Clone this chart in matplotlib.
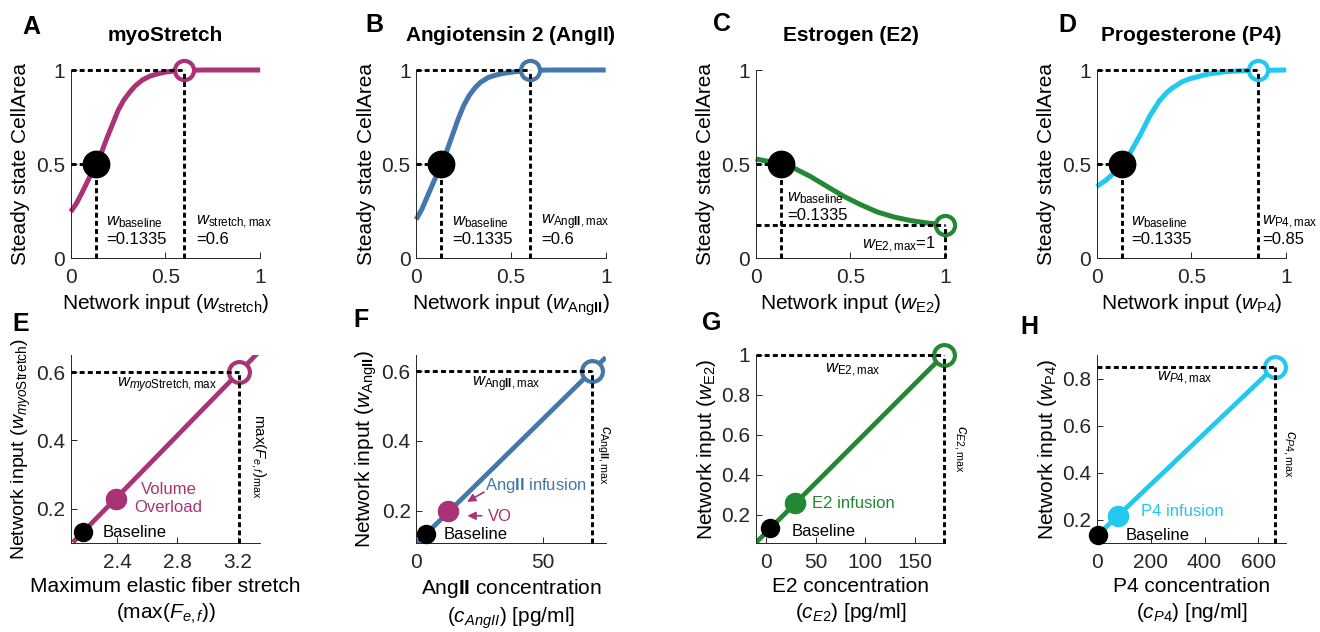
import matplotlib
matplotlib.use('Agg')
import matplotlib.pyplot as plt

plt.rcParams['font.family'] = ['Liberation Sans', 'DejaVu Sans']
plt.rcParams['mathtext.fontset'] = 'custom'
plt.rcParams['mathtext.rm'] = 'Liberation Sans'
plt.rcParams['mathtext.it'] = 'Liberation Sans:italic'
plt.rcParams['mathtext.bf'] = 'Liberation Sans:bold'

# ---------------- data ----------------
C_STRETCH = '#AA3377'
C_ANG = '#4477AA'
C_E2 = '#228833'
C_P4 = '#22C8EE'

w_baseline = 0.1335

# Top row: steady-state CellArea vs network input
wA = [0, .03, .06, .09, .1335, .16, .19, .22, .25, .28, .31, .34, .38, .42, .46, .50, .55, .60, .70, .80, 1.0]
areaA = [.246, .29, .348, .41, .50, .555, .635, .71, .785, .84, .88, .915, .948, .968, .980, .989, .995, .998, 1.0, 1.0, 1.0]
wB = [0, .03, .06, .09, .1335, .16, .19, .22, .25, .28, .31, .34, .38, .42, .46, .50, .55, .60, .70, .80, 1.0]
areaB = [.205, .26, .33, .40, .50, .565, .65, .735, .81, .865, .905, .935, .96, .973, .982, .988, .994, .997, 1.0, 1.0, 1.0]
wC = [0, .1335, .2, .288, .376, .465, .553, .641, .73, .818, .906, 1.0]
areaC = [.527, .50, .479, .434, .381, .328, .284, .245, .218, .199, .186, .177]
wD = [0, .05, .1, .1335, .175, .23, .28, .33, .37, .40, .45, .49, .58, .67, .75, .85, 1.0]
areaD = [.38, .415, .46, .50, .557, .655, .755, .835, .88, .905, .937, .953, .977, .99, .995, .998, 1.0]

wmax_top = [0.6, 0.6, 1.0, 0.85]
areamax_top = [1.0, 1.0, 0.177, 1.0]
wmax_labels = ['=0.6', '=0.6', '=1', '=0.85']

# Bottom row: network input vs stimulus
stretch_line_x = [2.105, 3.33]
stretch_line_w = [0.102, 0.654]
stretch_base = (2.175, 0.1335)
stretch_vo = (2.39, 0.23)
stretch_max = (3.21, 0.6)

ang_line_x = [0, 75]
ang_line_w = [0.105, 0.639]
ang_base = (4.0, 0.1335)
ang_vo = (12.5, 0.198)
ang_max = (69.5, 0.6)

e2_line_x = [-10, 179]
e2_line_w = [0.062, 1.0]
e2_base = (4.4, 0.1335)
e2_inf = (29.7, 0.26)
e2_max = (179, 1.0)

p4_line_x = [0, 660]
p4_line_w = [0.13, 0.85]
p4_base = (3, 0.1335)
p4_inf = (78, 0.216)
p4_max = (660, 0.85)

# ---------------- figure ----------------
W, H = 1320, 632
fig = plt.figure(figsize=(W / 100, H / 100), dpi=100)

col_left = [70.7, 416.2, 755.7, 1096.7]
ax_w = 189.5
row_top = [70, 355]
ax_h = 188


def make_ax(col, row):
    l = col_left[col] / W
    b = (H - row_top[row] - ax_h) / H
    ax = fig.add_axes([l, b, ax_w / W, ax_h / H])
    for s in ['top', 'right']:
        ax.spines[s].set_visible(False)
    for s in ['left', 'bottom']:
        ax.spines[s].set_color('#262626')
        ax.spines[s].set_linewidth(0.7)
    ax.tick_params(direction='in', length=4, width=0.7, colors='#262626',
                   labelsize=15, labelcolor='#262626')
    ax.tick_params(axis='x', pad=7)
    ax.tick_params(axis='y', pad=4)
    return ax


DASH = dict(color='black', lw=2.1, ls=(0, (1.7, 1.1)), zorder=4, clip_on=False,
            dash_capstyle='butt')

titles = ['myoStretch', r'Angiotensin 2 (Ang$\mathbf{II}$)', 'Estrogen (E2)', 'Progesterone (P4)']
xlabels_top = [r'Network input ($w_{\mathrm{stretch}}$)',
               r'Network input ($w_{\mathrm{Ang}\mathbf{II}}$)',
               r'Network input ($w_{\mathrm{E2}}$)',
               r'Network input ($w_{\mathrm{P4}}$)']
wmax_names = [r'$w_{\mathrm{stretch,max}}$', r'$w_{\mathrm{Ang}\mathbf{II}\mathrm{,max}}$',
              r'$w_{\mathrm{E2,max}}$', r'$w_{\mathrm{P4,max}}$']
curves = [(wA, areaA, C_STRETCH), (wB, areaB, C_ANG), (wC, areaC, C_E2), (wD, areaD, C_P4)]
base_lbl_x = [0.186, 0.19, 0.164, 0.18]
base_lbl_y = [0.189, 0.189, 0.318, 0.189]
max_lbl_x = [0.66, 0.66, 0.95, 0.873]

for i, (xs, ys, col) in enumerate(curves):
    ax = make_ax(i, 0)
    ax.set_xlim(0, 1)
    ax.set_ylim(0, 1)
    ax.set_xticks([0, 0.5, 1])
    ax.set_xticklabels(['0', '0.5', '1'])
    ax.set_yticks([0, 0.5, 1])
    ax.set_yticklabels(['0', '0.5', '1'])
    ax.plot(xs, ys, color=col, lw=3.6, solid_capstyle='butt', solid_joinstyle='round',
            zorder=2, clip_on=False)
    # dashed guides
    ax.plot([0, w_baseline], [0.5, 0.5], **DASH)
    ax.plot([w_baseline, w_baseline], [0, 0.5], **DASH)
    ax.plot([0, wmax_top[i]], [areamax_top[i], areamax_top[i]], **DASH)
    ax.plot([wmax_top[i], wmax_top[i]], [0, areamax_top[i]], **DASH)
    ax.plot([wmax_top[i]], [areamax_top[i]], 'o', ms=13.8, mew=3, mec=col, mfc='white',
            zorder=3, clip_on=False)
    ax.plot([w_baseline], [0.5], 'o', ms=19, color='black', zorder=5, clip_on=False)
    ax.set_title(titles[i], fontsize=15, fontweight='bold', pad=21)
    ax.set_xlabel(xlabels_top[i], fontsize=15, labelpad=4)
    ax.set_ylabel('Steady state CellArea', fontsize=15, labelpad=4)
    ax.text(base_lbl_x[i], base_lbl_y[i], r'$w_{\mathrm{baseline}}$', fontsize=12, va='center', ha='left')
    ax.text(base_lbl_x[i], base_lbl_y[i] - 0.093, '=0.1335', fontsize=12, va='center', ha='left')
    if i == 2:
        ax.text(max_lbl_x[i], 0.069, wmax_names[i] + '=1', fontsize=12, va='center', ha='right')
    else:
        ax.text(max_lbl_x[i], 0.189, wmax_names[i], fontsize=12, va='center', ha='left')
        ax.text(max_lbl_x[i], 0.096, wmax_labels[i], fontsize=12, va='center', ha='left')


# ---------------- bottom row ----------------
def bottom_common(ax, line_x, line_w, col, base, mid, mid_col, mx, xlim, ylim):
    ax.set_xlim(*xlim)
    ax.set_ylim(*ylim)
    ax.plot(line_x, line_w, color=col, lw=3.4, zorder=2, solid_capstyle='butt')
    ax.plot([xlim[0], mx[0]], [mx[1], mx[1]], **DASH)
    ax.plot([mx[0], mx[0]], [ylim[0], mx[1]], **DASH)
    ax.plot([mx[0]], [mx[1]], 'o', ms=15, mew=3, mec=col, mfc='white', zorder=3, clip_on=False)
    ax.plot([mid[0]], [mid[1]], 'o', ms=15.5, color=mid_col, mec='none', zorder=5, clip_on=False)
    ax.plot([base[0]], [base[1]], 'o', ms=14, color='black', mec='none', zorder=5, clip_on=False)


# E
ax = make_ax(0, 1)
bottom_common(ax, stretch_line_x, stretch_line_w, C_STRETCH, stretch_base, stretch_vo, C_STRETCH,
              stretch_max, (2.09, 3.35), (0.10, 0.65))
ax.set_xticks([2.4, 2.8, 3.2])
ax.set_xticklabels(['2.4', '2.8', '3.2'])
ax.set_yticks([0.2, 0.4, 0.6])
ax.set_yticklabels(['0.2', '0.4', '0.6'])
ax.set_xlabel('Maximum elastic fiber stretch\n' + r'(max($F_{e,f}$))', fontsize=15, labelpad=4, linespacing=1.3)
ax.set_ylabel(r'Network input ($w_{myo\mathrm{Stretch}}$)', fontsize=14, labelpad=2)
ax.text(2.727, 0.562, r'$w_{myo\mathrm{Stretch,max}}$', fontsize=12, ha='center', va='center')
ax.text(3.338, 0.355, r'max($F_{e,f})_{\mathrm{max}}$', fontsize=11, rotation=270,
        ha='center', va='center', clip_on=False)
ax.text(2.74, 0.229, 'Volume\nOverload', color=C_STRETCH, fontsize=12, ha='center', va='center',
        linespacing=1.25)
ax.text(2.305, 0.131, 'Baseline', fontsize=12, ha='left', va='center')

# F
ax = make_ax(1, 1)
bottom_common(ax, ang_line_x, ang_line_w, C_ANG, ang_base, ang_vo, C_STRETCH, ang_max,
              (0, 75), (0.107, 0.646))
ax.set_xticks([0, 50])
ax.set_xticklabels(['0', '50'])
ax.set_yticks([0.2, 0.4, 0.6])
ax.set_yticklabels(['0.2', '0.4', '0.6'])
ax.set_xlabel(r'Ang$\mathbf{II}$ concentration' + '\n' + r'($c_{AngII}$) [pg/ml]', fontsize=15,
              labelpad=4, linespacing=1.3)
ax.set_ylabel(r'Network input ($w_{\mathrm{Ang}\mathbf{II}}$)', fontsize=15, labelpad=2)
ax.text(35.4, 0.563, r'$w_{\mathrm{Ang}\mathbf{II}\mathrm{,max}}$', fontsize=12, ha='center', va='center')
ax.text(74.0, 0.359, r'$c_{\mathrm{Ang}\mathbf{II}\mathrm{,max}}$', fontsize=11, rotation=270,
        ha='center', va='center', clip_on=False)
ax.text(27.1, 0.273, r'Ang$\mathbf{II}$ infusion', color=C_ANG, fontsize=12, ha='left', va='center')
ax.text(28.4, 0.183, 'VO', color=C_STRETCH, fontsize=12, ha='left', va='center')
ax.text(11.0, 0.13, 'Baseline', fontsize=12, ha='left', va='center')
ax.annotate('', xy=(19.2, 0.221), xytext=(27.8, 0.257),
            arrowprops=dict(arrowstyle='-|>', color=C_STRETCH, lw=1.2, mutation_scale=12))
ax.annotate('', xy=(19.2, 0.185), xytext=(27.0, 0.185),
            arrowprops=dict(arrowstyle='-|>', color=C_STRETCH, lw=1.2, mutation_scale=12))

# G
ax = make_ax(2, 1)
bottom_common(ax, e2_line_x, e2_line_w, C_E2, e2_base, e2_inf, C_E2, e2_max,
              (-10.3, 180.5), (0.06, 1.0))
ax.set_xticks([0, 50, 100, 150])
ax.set_xticklabels(['0', '50', '100', '150'])
ax.set_yticks([0.2, 0.4, 0.6, 0.8, 1.0])
ax.set_yticklabels(['0.2', '0.4', '0.6', '0.8', '1'])
ax.set_xlabel('E2 concentration\n' + r'($c_{E2}$) [pg/ml]', fontsize=15, labelpad=4, linespacing=1.3)
ax.set_ylabel(r'Network input ($w_{\mathrm{E2}}$)', fontsize=15, labelpad=2)
ax.text(86.9, 0.924, r'$w_{\mathrm{E2,max}}$', fontsize=12, ha='center', va='center')
ax.text(195, 0.53, r'$c_{E2\mathrm{,max}}$', fontsize=11, rotation=270, ha='center', va='center',
        clip_on=False)
ax.text(46.4, 0.257, 'E2 infusion', color=C_E2, fontsize=12, ha='left', va='center')
ax.text(26.3, 0.115, 'Baseline', fontsize=12, ha='left', va='center')

# H
ax = make_ax(3, 1)
bottom_common(ax, p4_line_x, p4_line_w, C_P4, p4_base, p4_inf, C_P4, p4_max,
              (0, 703), (0.1, 0.9))
ax.set_xticks([0, 200, 400, 600])
ax.set_xticklabels(['0', '200', '400', '600'])
ax.set_yticks([0.2, 0.4, 0.6, 0.8])
ax.set_yticklabels(['0.2', '0.4', '0.6', '0.8'])
ax.set_xlabel('P4 concentration\n' + r'($c_{P4}$) [ng/ml]', fontsize=15, labelpad=4, linespacing=1.3)
ax.set_ylabel(r'Network input ($w_{\mathrm{P4}}$)', fontsize=15, labelpad=2)
ax.text(327, 0.80, r'$w_{P4\mathrm{,max}}$', fontsize=12, ha='center', va='center')
ax.text(713, 0.479, r'$c_{P4\mathrm{,max}}$', fontsize=11, rotation=270, ha='center', va='center',
        clip_on=False)
ax.text(166, 0.232, 'P4 infusion', color=C_P4, fontsize=12, ha='left', va='center')
ax.text(107, 0.132, 'Baseline', fontsize=12, ha='left', va='center')

# panel letters
letters = ['A', 'B', 'C', 'D', 'E', 'F', 'G', 'H']
letter_x = [22, 365, 713, 1058, 12, 353, 702, 1020]
letter_y = [34, 32, 31, 32, 331, 327, 330, 334]
for L, lx, ly in zip(letters, letter_x, letter_y):
    fig.text(lx / W, 1 - ly / H, L, fontsize=18, fontweight='bold', ha='left', va='baseline')

fig.savefig('out.png', dpi=100)
